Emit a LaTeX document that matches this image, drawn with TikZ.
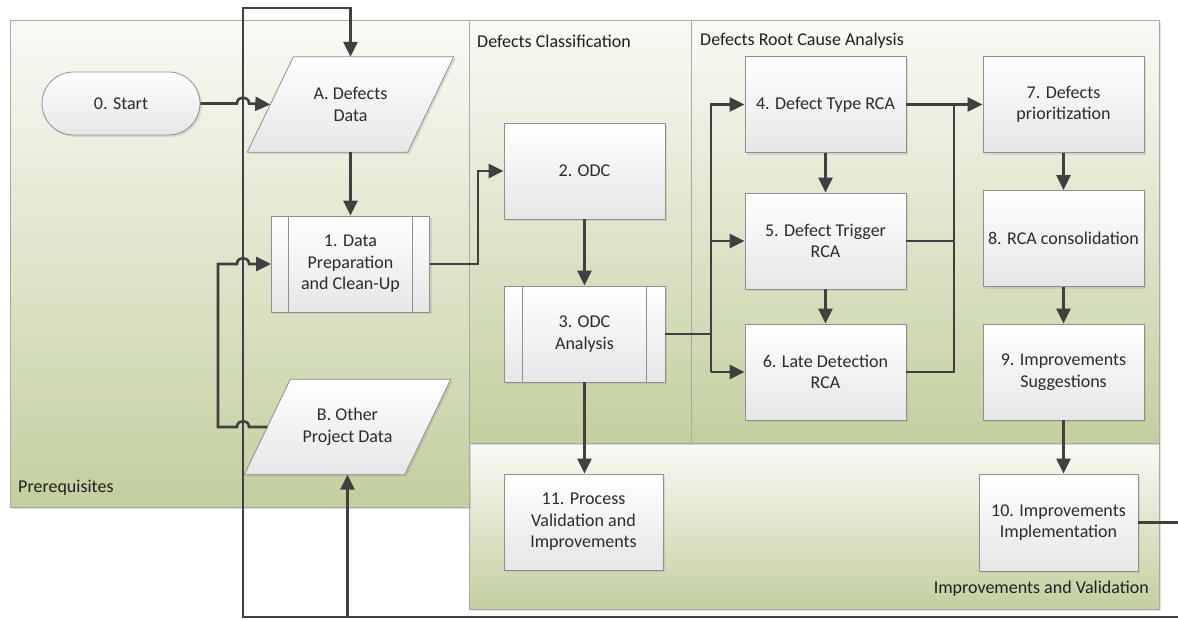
\documentclass[tikz,border=0pt]{standalone}
\usepackage{fontspec}
\setmainfont{Carlito}
\usetikzlibrary{arrows.meta,shadows,calc}
\definecolor{lanegreen}{HTML}{C3CF9F}
\definecolor{lanetop}{HTML}{F9FAF5}
\definecolor{laneline}{HTML}{A8A8A8}
\definecolor{boxbot}{HTML}{E6E6E6}
\definecolor{boxline}{HTML}{8F8F8F}
\definecolor{conncol}{HTML}{404040}
\definecolor{txt}{HTML}{2B2B2B}
\pgfdeclarelayer{lanes}
\pgfdeclarelayer{shapes}
\pgfsetlayers{lanes,shapes,main}
\begin{document}
\begin{tikzpicture}[x=1pt,y=-1pt,
 every node/.style={font=\fontsize{18}{21.5}\selectfont,text=txt},
 lane/.style={draw=laneline,line width=0.9pt,top color=lanetop,bottom color=lanegreen,
   drop shadow={shadow xshift=2pt,shadow yshift=-2pt,opacity=0.25}},
 lanelabel/.style={inner sep=0pt,text=black!88},
 stepbox/.style={draw=boxline,line width=0.8pt,top color=white,bottom color=boxbot,
   minimum width=161pt,minimum height=96pt,inner sep=0pt,align=center,
   drop shadow={shadow xshift=2pt,shadow yshift=-2pt,opacity=0.2}},
 datatext/.style={minimum width=206pt,minimum height=95pt,inner sep=0pt,align=center},
 datashape/.style={draw=boxline,line width=0.8pt,top color=white,bottom color=boxbot,
   drop shadow={shadow xshift=2pt,shadow yshift=-2pt,opacity=0.2}},
 connline/.style={draw=conncol,line width=2.6pt},
 arr/.style={connline,-{Triangle[length=15pt,width=14pt]}},
]
\useasboundingbox (0,0) rectangle (1178,619);

% ---------- lanes ----------
\begin{pgfonlayer}{lanes}
\fill[white] (0,0) rectangle (1178,619);
\path[lane] (469,443) rectangle (1159,609);
\path[lane] (10,20) rectangle (469,507);
\path[lane] (469,20) rectangle (691,443);
\path[lane] (691,20) rectangle (1159,443);
\end{pgfonlayer}
\node[lanelabel,anchor=west] (lpre) at (18,488) {Prerequisites};
\node[lanelabel,anchor=west] (lcls) at (477,41) {Defects Classification};
\node[lanelabel,anchor=west] (lrca) at (700,41) {Defects Root Cause Analysis};
\node[lanelabel,anchor=east] (limp) at (1149,589) {Improvements and Validation};

% ---------- nodes ----------
\node[stepbox,minimum width=158pt,minimum height=63pt,rounded corners=31.5pt] (s0) at (121,103.5) {0. Start};
\node[datatext] (A) at (350.5,104.5) {A. Defects\\Data};
\node[datatext] (B) at (347.5,427) {B. Other\\Project Data};
\begin{pgfonlayer}{shapes}
\draw[datashape] ($(A.north west)+(46,0)$) -- (A.north east) -- ($(A.south east)+(-46,0)$) -- (A.south west) -- cycle;
\draw[datashape] ($(B.north west)+(46,0)$) -- (B.north east) -- ($(B.south east)+(-46,0)$) -- (B.south west) -- cycle;
\end{pgfonlayer}
\node[stepbox,minimum width=158pt] (p1) at (350.5,264) {1. Data\\Preparation\\and Clean-Up};
\draw[boxline,line width=0.8pt] ([xshift=17pt]p1.north west) -- ([xshift=17pt]p1.south west)
  ([xshift=-18pt]p1.north east) -- ([xshift=-18pt]p1.south east);
\node[stepbox] (p2) at (584.5,171) {2. ODC};
\node[stepbox] (p3) at (584.5,334) {3. ODC\\Analysis};
\draw[boxline,line width=0.8pt] ([xshift=19pt]p3.north west) -- ([xshift=19pt]p3.south west)
  ([xshift=-19pt]p3.north east) -- ([xshift=-19pt]p3.south east);
\node[stepbox] (p4) at (825.5,104.5) {4. Defect Type RCA};
\node[stepbox] (p5) at (825.5,241) {5. Defect Trigger\\RCA};
\node[stepbox] (p6) at (825.5,372) {6. Late Detection\\RCA};
\node[stepbox] (p7) at (1063.5,104.5) {7. Defects\\prioritization};
\node[stepbox] (p8) at (1063.5,238.5) {8. RCA consolidation};
\node[stepbox] (p9) at (1063.5,372) {9. Improvements\\Suggestions};
\node[stepbox,minimum width=159pt,minimum height=97pt] (p10) at (1058.5,522.5) {10. Improvements\\Implementation};
\node[stepbox,minimum width=159pt] (p11) at (583.5,522) {11. Process\\Validation and\\Improvements};

% ---------- coordinates ----------
\coordinate (Al) at ($(A.west)+(23,0)$);
\coordinate (Bl) at ($(B.west)+(23,0)$);
\coordinate (k12) at (478,171);
\coordinate (tt) at (711,104.5);
\coordinate (tb) at (711,372);
\coordinate (mt) at (954,104.5);
\coordinate (mb) at (954,372);
\coordinate (fbr) at (1190,522.5);
\coordinate (fbb) at (1190,617);
\coordinate (fbx) at (347.5,617);
\coordinate (fbl) at (243,617);
\coordinate (fbt) at (243,8);

% ---------- connectors ----------
\draw[arr] (s0.east) -- (237,103.5) .. controls (237,95.5) and (249,95.5) .. (249,103.5) -- (Al);
\draw[arr] (A.south) -- (p1.north);
\draw[arr] (Bl) -- (249,427) .. controls (249,419) and (237,419) .. (237,427) -- (218,427)
  -- (218,264) -- (237,264) .. controls (237,256) and (249,256) .. (249,264) -- (p1.west);
\draw[arr] (p1.east) -| (k12) -- (p2.west);
\draw[arr] (p2.south) -- (p3.north);
\draw[connline] (p3.east) -- (p3.east -| tt);
\draw[arr] (tb) -- (tt) -- (p4.west);
\draw[arr] (p5.west -| tt) -- (p5.west);
\draw[arr] (tb) -- (p6.west);
\draw[arr] (p4.south) -- (p5.north);
\draw[arr] (p5.south) -- (p6.north);
\draw[arr] (p4.east) -- (p7.west);
\draw[connline] (p5.east) -- (p5.east -| mt);
\draw[connline] (p6.east) -- (mb) -- (mt);
\draw[arr] (p7.south) -- (p8.north);
\draw[arr] (p8.south) -- (p9.north);
\draw[arr] (p9.south) -- (p9.south |- p10.north);
\draw[arr] (p3.south) -- (p3.south |- p11.north);
\draw[arr] (p10.east) -- (fbr) -- (fbb) -- (fbl) -- (fbt) -| (A.north);
\draw[arr] (fbx) -- (B.south);
\end{tikzpicture}
\end{document}
